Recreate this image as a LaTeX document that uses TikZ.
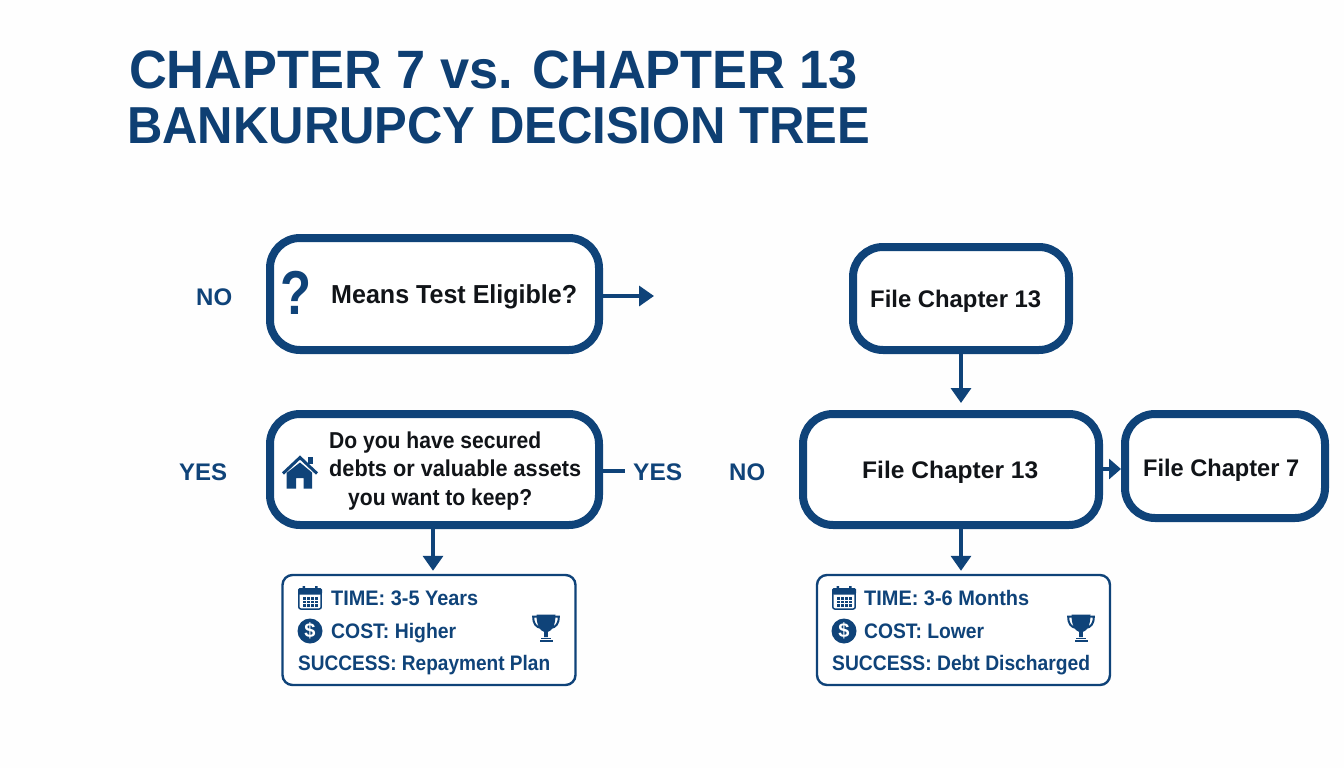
\documentclass[tikz,border=0pt]{standalone}
\usepackage{fontspec}
\usepackage{graphicx}
\setmainfont{Liberation Sans}
\usetikzlibrary{arrows.meta,calc}
\definecolor{navy}{HTML}{0F4379}
\definecolor{titlenavy}{HTML}{0E3F73}
\definecolor{ink}{HTML}{111418}
\definecolor{paper}{HTML}{FEFEFE}
% width, font size, text
\newcommand\fitx[3]{\resizebox{#1pt}{\height}{\fontsize{#2pt}{#2pt}\selectfont\bfseries #3}}
\newcommand\calicon[2]{\begin{scope}[shift={(#1,#2)}]
  \draw[navy,line width=1.5pt,fill=white,rounded corners=2pt] (0.8,3) rectangle (23.2,23);
  \fill[navy,rounded corners=1.5pt] (0,2) rectangle (24,8.5);
  \fill[navy] (4.5,0) rectangle (7,4) (17,0) rectangle (19.5,4);
  \foreach \gx in {5,9,13,17}{\foreach \gy in {11,14.5,18}{\fill[navy] (\gx,\gy) rectangle +(2.5,2.5);}}
\end{scope}}
\newcommand\troicon[2]{\begin{scope}[shift={(#1,#2)}]
  \draw[navy,line width=2pt] (5,2.5) -- (1.2,2.5) .. controls (1.2,10) and (4,13) .. (9,14);
  \draw[navy,line width=2pt] (23,2.5) -- (26.8,2.5) .. controls (26.8,10) and (24,13) .. (19,14);
  \fill[navy] (4.5,0.5) -- (23.5,0.5) .. controls (23.5,11) and (20.5,16.5) .. (15.8,18) -- (15.8,23) -- (12.2,23) -- (12.2,18) .. controls (7.5,16.5) and (4.5,11) .. cycle;
  \fill[navy] (9,23.5) rectangle (19,25.2);
  \fill[navy] (7.5,26) rectangle (20.5,28);
\end{scope}}
\tikzset{
  bigbox/.style={draw=navy,line width=8pt,rounded corners=30pt,fill=white,inner sep=0pt,
    minimum width=#1},
  infobox/.style={draw=navy,line width=2.4pt,rounded corners=10pt,fill=white,inner sep=0pt,
    minimum width=293pt,minimum height=110pt},
  lbl/.style={inner sep=0pt,anchor=base west,text=ink},
  tag/.style={inner sep=0pt,anchor=base west,text=navy},
  flow/.style={draw=navy,line width=3.4pt,-{Triangle[length=15pt,width=20pt]}},
  plainflow/.style={draw=navy,line width=3.4pt}
}
\begin{document}
\begin{tikzpicture}[x=1pt,y=-1pt]
\useasboundingbox (0,0) rectangle (1344,768);
\fill[paper] (0,0) rectangle (1344,768);

% title
\node[tag,text=titlenavy] (title1) at (129,88) {\fitx{729}{54}{CHAPTER 7 vs. CHAPTER 13}};
\node[tag,text=titlenavy] (title2) at (127,143.5) {\fitx{743}{52}{BANKURUPCY DECISION TREE}};

% boxes
\node[bigbox=329pt,minimum height=112pt] (means) at (434.5,294) {};
\node[bigbox=329pt,minimum height=111pt] (secured) at (434.5,469.5) {};
\node[bigbox=216pt,minimum height=103pt] (ftop) at (961,298.5) {};
\node[bigbox=296pt,minimum height=111pt] (fmid) at (951,469.5) {};
\node[bigbox=200pt,minimum height=104pt] (fseven) at (1225,466) {};
\node[infobox] (infoL) at (429,630) {};
\node[infobox] (infoR) at (963.5,630) {};

% connectors
\coordinate (meansEnd) at (654,296);
\coordinate (securedEnd) at (625,471);
\coordinate (securedDown) at (433,529);
\coordinate (fmidDown) at (961,529);
\draw[flow] (means.east |- meansEnd) -- (meansEnd);
\draw[plainflow] (secured.east |- securedEnd) -- (securedEnd);
\draw[flow,shorten >=3pt] (securedDown) -- (securedDown |- infoL.north);
\draw[flow,shorten >=7pt] (ftop.south) -- (ftop.south |- fmid.north);
\draw[flow,shorten >=3pt] (fmidDown) -- (fmidDown |- infoR.north);
\draw[draw=navy,line width=3.4pt,-{Triangle[length=12pt,width=20pt]}] (fmid.east |- 0,469) -- (fseven.west |- 0,469);

% side tags
\node[tag] (noA) at (196,305) {\fitx{36}{24}{NO}};
\node[tag] (yesA) at (179,480) {\fitx{48}{24}{YES}};
\node[tag] (yesB) at (633,480) {\fitx{49}{24}{YES}};
\node[tag] (noB) at (729,480) {\fitx{36}{24}{NO}};

% box texts
\node[tag] (qmark) at (280.5,314) {\fitx{31}{62}{?}};
\node[lbl] (tMeans) at (331,303) {\fitx{246}{26}{Means Test Eligible?}};
\node[lbl] (tDo) at (329,448) {\fitx{212}{23}{Do you have secured}};
\node[lbl] (tDebts) at (329,476.5) {\fitx{252}{23}{debts or valuable assets}};
\node[lbl] (tKeep) at (348,505) {\fitx{184}{23}{you want to keep?}};
\node[lbl] (tTop) at (870,307) {\fitx{171}{24}{File Chapter 13}};
\node[lbl] (tMid) at (862,478.5) {\fitx{176}{24}{File Chapter 13}};
\node[lbl] (tSeven) at (1143,476) {\fitx{156}{24}{File Chapter 7}};

% house icon
\fill[navy] (286.5,473) -- (300,462.5) -- (312,472.5) -- (312,488.5) -- (303.5,488.5) -- (303.5,478) -- (296,478) -- (296,488.5) -- (286.5,488.5) -- cycle;
\fill[navy] (308,456.5) rectangle (312.5,464);
\draw[navy,line width=3pt,line join=miter] (283,473.5) -- (300,457.5) -- (317,473.5);

% info left
\calicon{298}{586}
\fill[navy] (310,631) circle (12.5);
\node[inner sep=0pt,text=white] (dollarL) at (310,631) {\fontsize{20}{20}\selectfont\bfseries\$};
\troicon{532}{614}
\node[tag] (timeL) at (331,605.5) {\fitx{147}{21}{TIME: 3-5 Years}};
\node[tag] (costL) at (331,638) {\fitx{125}{21}{COST: Higher}};
\node[tag] (succL) at (298,670.5) {\fitx{252}{21}{SUCCESS: Repayment Plan}};

% info right
\calicon{832}{586}
\fill[navy] (844,631) circle (12.5);
\node[inner sep=0pt,text=white] (dollarR) at (844,631) {\fontsize{20}{20}\selectfont\bfseries\$};
\troicon{1067}{614}
\node[tag] (timeR) at (864,605.5) {\fitx{165}{21}{TIME: 3-6 Months}};
\node[tag] (costR) at (864,638) {\fitx{120}{21}{COST: Lower}};
\node[tag] (succR) at (832,670.5) {\fitx{258}{21}{SUCCESS: Debt Discharged}};
\end{tikzpicture}
\end{document}
